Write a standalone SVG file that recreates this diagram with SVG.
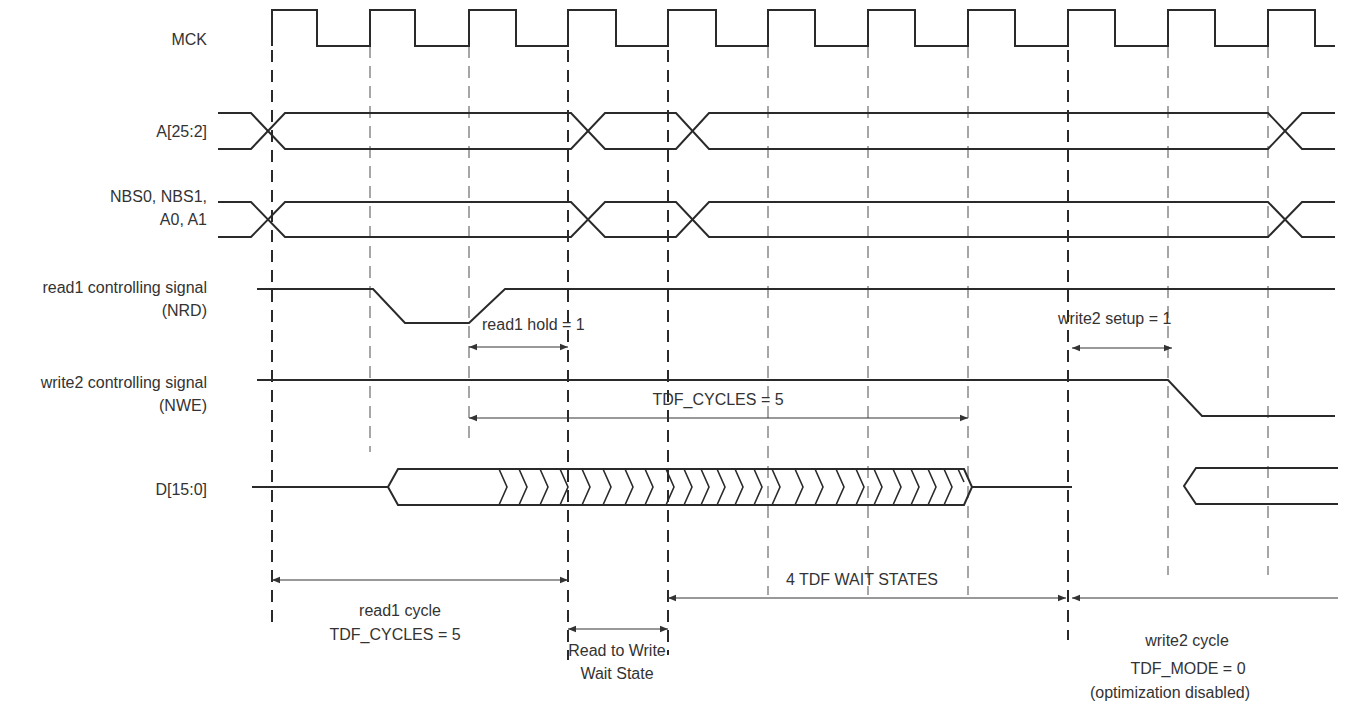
<svg xmlns="http://www.w3.org/2000/svg" width="1346" height="707" viewBox="0 0 1346 707">
<style>
text{font-family:"Liberation Sans",Arial,sans-serif;font-size:16px;fill:#333}
.r{text-anchor:end}.m{text-anchor:middle}
.s{fill:none;stroke:#2a2a2a;stroke-width:2;stroke-linejoin:miter}
.c{fill:none;stroke:#2a2a2a;stroke-width:1.6}
.dh{stroke:#2a2a2a;stroke-width:2;stroke-dasharray:12,8}
.dl{stroke:#777;stroke-width:1.3;stroke-dasharray:12,8}
.a{stroke:#333;stroke-width:1;marker-start:url(#ah);marker-end:url(#ah)}
</style>
<defs><marker id="ah" viewBox="0 0 10 10" refX="10" refY="5" markerWidth="12" markerHeight="8" orient="auto-start-reverse" markerUnits="userSpaceOnUse"><path d="M0,1 L10,5 L0,9 Z" fill="#333"/></marker></defs>
<rect width="1346" height="707" fill="#fff"/>
<g id="grid">
<line class="dh" x1="272" y1="10" x2="272" y2="630"/>
<line class="dl" x1="370" y1="46" x2="370" y2="452"/>
<line class="dl" x1="469" y1="46" x2="469" y2="445"/>
<line class="dh" x1="568" y1="10" x2="568" y2="660"/>
<line class="dh" x1="668" y1="10" x2="668" y2="655"/>
<line class="dl" x1="768" y1="46" x2="768" y2="595"/>
<line class="dl" x1="868" y1="46" x2="868" y2="595"/>
<line class="dl" x1="968" y1="46" x2="968" y2="595"/>
<line class="dh" x1="1068" y1="10" x2="1068" y2="640"/>
<line class="dl" x1="1168" y1="46" x2="1168" y2="575"/>
<line class="dl" x1="1268" y1="46" x2="1268" y2="575"/>
</g>
<g id="labels">
<text class="r" x="207" y="45">MCK</text>
<text class="r" x="207" y="137">A[25:2]</text>
<text class="r" x="207" y="202">NBS0, NBS1,</text>
<text class="r" x="207" y="225">A0, A1</text>
<text class="r" x="207" y="293">read1 controlling signal</text>
<text class="r" x="207" y="316">(NRD)</text>
<text class="r" x="207" y="388">write2 controlling signal</text>
<text class="r" x="207" y="411">(NWE)</text>
<text class="r" x="207" y="495">D[15:0]</text>
</g>
<g id="mck"><path class="s" d="M272,46 V10 H317 V46 H370 V10 H415 V46 H469 V10 H516 V46 H568 V10 H616 V46 H668 V10 H716 V46 H768 V10 H815 V46 H868 V10 H915 V46 H968 V10 H1015 V46 H1068 V10 H1115 V46 H1168 V10 H1215 V46 H1268 V10 H1315 V46 H1335"/></g>
<g id="addr">
<path class="s" d="M218,113 H251 L285,149 H571 L605,113 H676 L709,149 H1268 L1302,113 H1335"/>
<path class="s" d="M218,149 H251 L285,113 H571 L605,149 H676 L709,113 H1268 L1302,149 H1335"/>
</g>
<g id="nbs">
<path class="s" d="M218,202 H251 L285,237 H571 L605,202 H676 L709,237 H1268 L1302,202 H1335"/>
<path class="s" d="M218,237 H251 L285,202 H571 L605,237 H676 L709,202 H1268 L1302,237 H1335"/>
</g>
<g id="nrd"><path class="s" d="M257,289 H373 L405,323 H469 L505,289 H1335"/></g>
<g id="nwe"><path class="s" d="M257,380 H1168 L1202,416 H1335"/></g>
<g id="data">
<path class="s" d="M252,487 H388 L398,469 H964 L972,487 L964,505 H398 L388,487"/>
<path class="s" d="M972,487 H1072"/>
<path class="s" d="M1338,468 H1196 L1184,486 L1196,504 H1338"/>
<path class="c" d="M499,469 l8,18 l-8,18 M519,469 l8,18 l-8,18 M540,469 l8,18 l-8,18 M560,469 l8,18 l-8,18 M582,469 l8,18 l-8,18 M603,469 l8,18 l-8,18 M625,469 l8,18 l-8,18 M645,469 l8,18 l-8,18 M666,469 l8,18 l-8,18 M684,469 l8,18 l-8,18 M701,469 l8,18 l-8,18 M717,469 l8,18 l-8,18 M735,469 l8,18 l-8,18 M754,469 l8,18 l-8,18 M772,469 l8,18 l-8,18 M795,469 l8,18 l-8,18 M815,469 l8,18 l-8,18 M836,469 l8,18 l-8,18 M856,469 l8,18 l-8,18 M874,469 l8,18 l-8,18 M893,469 l8,18 l-8,18 M911,469 l8,18 l-8,18 M928,469 l8,18 l-8,18 M944,469 l8,18 l-8,18 M958,469 l6,13"/>
</g>
<g id="connectors">
<line class="a" x1="469" y1="347" x2="568" y2="347"/>
<line class="a" x1="1072" y1="348" x2="1172" y2="348"/>
<line class="a" x1="469" y1="418" x2="968" y2="418"/>
<line class="a" x1="272" y1="580" x2="568" y2="580"/>
<line class="a" x1="568" y1="629" x2="668" y2="629"/>
<line class="a" x1="668" y1="598" x2="1066" y2="598"/>
<line stroke="#333" stroke-width="1" marker-start="url(#ah)" x1="1072" y1="598" x2="1338" y2="598"/>
</g>
<g id="annotations">
<text x="482" y="330">read1 hold = 1</text>
<text x="1058" y="324">write2 setup = 1</text>
<text class="m" x="718" y="405">TDF_CYCLES  = 5</text>
<text class="m" x="862" y="585">4 TDF WAIT STATES</text>
<text class="m" x="400" y="616">read1 cycle</text>
<text class="m" x="395" y="640">TDF_CYCLES = 5</text>
<text class="m" x="617" y="656">Read to Write</text>
<text class="m" x="617" y="679">Wait State</text>
<text class="m" x="1187" y="646">write2 cycle</text>
<text class="m" x="1188" y="674">TDF_MODE = 0</text>
<text class="m" x="1170" y="698">(optimization disabled)</text>
</g>
</svg>
